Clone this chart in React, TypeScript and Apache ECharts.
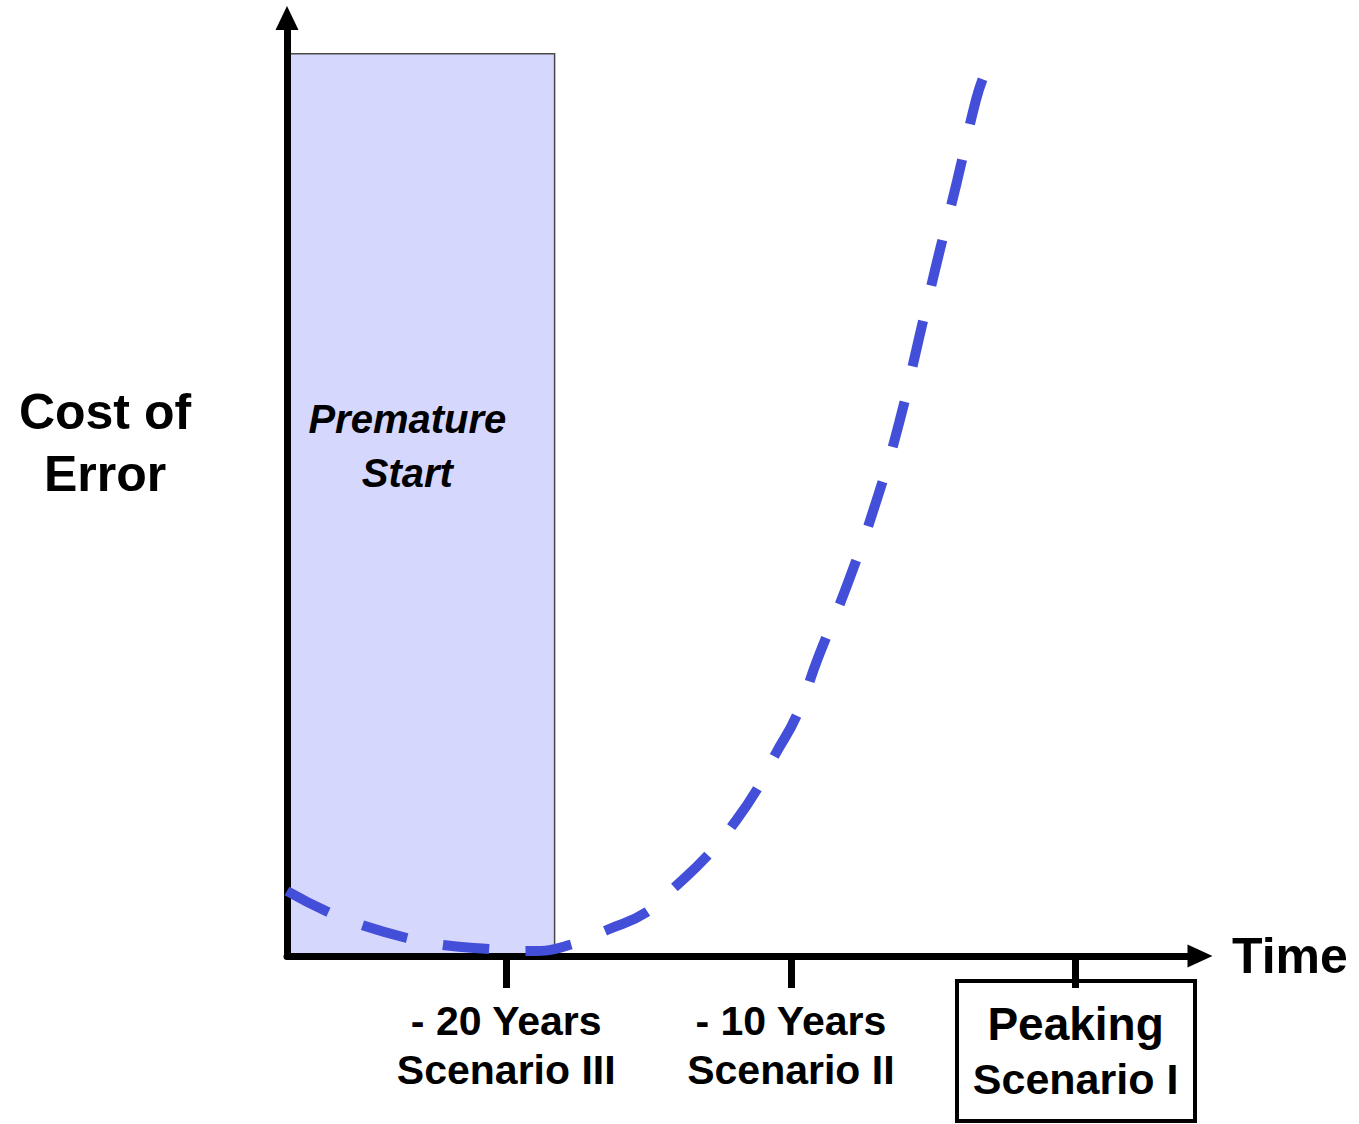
import React, { useEffect, useRef } from "react";
import * as echarts from "echarts";

// Curve: cost of error vs. years relative to peaking
const curveYears = [-27.7, -26.26, -25.07, -23.49, -22.22, -20.57, -19.16, -17.65, -16.46, -15.06, -14.07, -12.91, -12.07, -11.16, -10.56, -9.79, -9.05, -8.0, -7.01, -6.2, -5.54, -4.87, -4.17, -3.5, -3.2];
const curveCost = [6.93, 4.69, 3.3, 1.92, 1.17, 0.75, 0.53, 1.28, 2.77, 4.69, 7.36, 10.77, 13.86, 17.91, 21.43, 25.69, 31.77, 39.77, 48.4, 56.82, 65.35, 73.99, 82.52, 91.26, 94.0];

// Ticks
const tickYears = [-20, -10, 0];
const tickLine1 = ["- 20 Years", "- 10 Years", "Peaking"];
const tickLine2 = ["Scenario III", "Scenario II", "Scenario I"];

// Premature start region
const prematureFrom = -27.7;
const prematureTo = -18.3;
const prematureTop = 96.2;
const prematureLabel = "Premature\nStart";

const axisMin = -27.7;
const axisMax = 4.37;

const FONT = "Liberation Sans, Arial, Helvetica, sans-serif";

export default function App() {
  const ref = useRef<HTMLDivElement>(null);
  useEffect(() => {
    if (!ref.current) return;
    const chart = echarts.init(ref.current, undefined, { renderer: "svg" });
    const data = curveYears.map((x, i) => [x, curveCost[i]]);
    chart.setOption({
      animation: false,
      backgroundColor: "#ffffff",
      grid: { left: 287, right: 159, top: 18, bottom: 168, containLabel: false, outerBoundsMode: "none" },
      xAxis: {
        type: "value",
        min: axisMin,
        max: axisMax,
        z: 2,
        name: "Time",
        nameLocation: "end",
        nameGap: 32,
        nameTextStyle: { fontFamily: FONT, fontWeight: "bold", fontSize: 50, color: "#000", verticalAlign: "middle", padding: [0, 0, 18, 0] },
        axisLine: { show: true, onZero: false, symbol: ["none", "triangle"], symbolSize: [23, 25], lineStyle: { color: "#000", width: 7 } },
        axisTick: { show: true, customValues: tickYears, length: 32, lineStyle: { color: "#000", width: 7 } },
        axisLabel: {
          show: true,
          customValues: tickYears,
          margin: 40,
          color: "#000",
          formatter: (v: number) => {
            const i = tickYears.indexOf(Math.round(v));
            if (i < 0) return "";
            if (i === 2) return `{p|${tickLine1[i]}}\n{ps|${tickLine2[i]}}`;
            return `{a|${tickLine1[i]}}\n{a|${tickLine2[i]}}`;
          },
          rich: {
            a: { fontFamily: FONT, fontWeight: "bold", fontSize: 41, lineHeight: 49, color: "#000" },
            p: { fontFamily: FONT, fontWeight: "bold", fontSize: 46, lineHeight: 56, color: "#000" },
            ps: { fontFamily: FONT, fontWeight: "bold", fontSize: 43, lineHeight: 54, color: "#000" },
          },
        },
        splitLine: { show: false },
      },
      yAxis: {
        type: "value",
        min: 0,
        max: 100,
        z: 2,
        axisLine: { show: true, onZero: false, symbol: ["none", "triangle"], symbolSize: [23, 24], lineStyle: { color: "#000", width: 7 } },
        axisTick: { show: false },
        axisLabel: { show: false },
        splitLine: { show: false },
      },
      series: [
        {
          type: "line",
          data: [],
          z: 1,
          silent: true,
          markArea: {
            silent: true,
            z: 1,
            itemStyle: { color: "#d5d7fc", borderColor: "#4a4a4a", borderWidth: 1.5 },
            label: {
              show: true,
              position: ["45%", "43.5%"],
              align: "center",
              verticalAlign: "middle",
              formatter: "{b}",
              fontFamily: FONT,
              fontStyle: "italic",
              fontWeight: "bold",
              fontSize: 40,
              lineHeight: 54,
              color: "#000",
            },
            data: [[{ name: prematureLabel, xAxis: prematureFrom, yAxis: 0 }, { xAxis: prematureTo, yAxis: prematureTop }]],
          },
        },
        {
          type: "line",
          data,
          z: 3,
          smooth: true,
          symbol: "none",
          silent: true,
          lineStyle: { color: "#434fd8", width: 10, type: [46.5, 36.5], cap: "butt" },
        },
      ],
      graphic: [
        {
          type: "text",
          x: 105,
          y: 381,
          z: 10,
          style: {
            text: "Cost of\nError",
            fontFamily: FONT,
            fontWeight: "bold",
            fontSize: 50,
            lineHeight: 62,
            fill: "#000",
            textAlign: "center",
            textVerticalAlign: "top",
          },
        },
        {
          type: "rect",
          z: 10,
          shape: { x: 957, y: 981, width: 238, height: 140 },
          style: { fill: "none", stroke: "#000", lineWidth: 4 },
        },
      ],
    });
    return () => chart.dispose();
  }, []);
  return <div ref={ref} style={{ position: "fixed", left: 0, top: 0, width: 1359, height: 1124 }} />;
}
